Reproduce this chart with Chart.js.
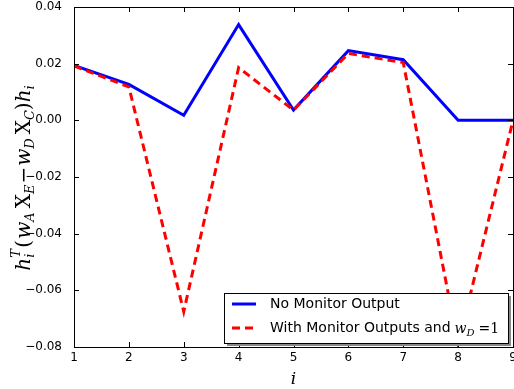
<!DOCTYPE html>
<html>
<head>
<meta charset="utf-8">
<script src="https://cdn.jsdelivr.net/npm/chart.js@4.4.0/dist/chart.umd.min.js"></script>
<style>
  body { margin: 0; background: #fff; }
  #wrap { width: 514px; height: 389px; }
</style>
</head>
<body>
<div id="wrap"><canvas id="chart" width="514" height="389"></canvas></div>
<script>
// data
var indices = [1, 2, 3, 4, 5, 6, 7, 8, 9];
var noMonitor = [0.0194, 0.0127, 0.0018, 0.0338, 0.0036, 0.0246, 0.0214, 0.0, 0.0];
var withMonitor = [0.0192, 0.0118, -0.0675, 0.0186, 0.0036, 0.0236, 0.0204, -0.0790, 0.0];
var xTicks = [1, 2, 3, 4, 5, 6, 7, 8, 9];
var yTicks = [0.04, 0.02, 0.00, -0.02, -0.04, -0.06, -0.08];

var SANS = "'DejaVu Sans', sans-serif";
var SERIF = "'DejaVu Serif', serif";

function fmt(v) {
    var s = Math.abs(v) < 1e-9 ? '0.00' : v.toFixed(2);
    return s.replace('-', '\u2212');
}

// draw a run of text pieces (for the math labels)
function drawRuns(ctx, runs, x, y) {
    ctx.textBaseline = 'alphabetic';
    ctx.textAlign = 'left';
    runs.forEach(function(r) {
        ctx.font = r.f;
        ctx.fillText(r.t, x + (r.dx || 0), y + (r.dy || 0));
        if (!r.noAdvance) x += ctx.measureText(r.t).width + (r.dx || 0) + (r.gap || 0);
    });
    return x;
}
function runsWidth(ctx, runs) {
    var w = 0;
    runs.forEach(function(r) {
        ctx.font = r.f;
        if (!r.noAdvance) w += ctx.measureText(r.t).width + (r.dx || 0) + (r.gap || 0);
    });
    return w;
}

var frame = {
    id: 'frame',
    afterDraw: function(chart) {
        var ctx = chart.ctx, a = chart.chartArea;
        var xs = chart.scales.x, ys = chart.scales.y;
        ctx.save();
        ctx.strokeStyle = '#000';
        ctx.lineWidth = 1;
        ctx.strokeRect(Math.round(a.left) + 0.5, Math.round(a.top) + 0.5,
            Math.round(a.right - a.left), Math.round(a.bottom - a.top));

        // inward tick marks on every side
        ctx.beginPath();
        xTicks.forEach(function(v) {
            var px = Math.round(xs.getPixelForValue(v)) + 0.5;
            ctx.moveTo(px, a.bottom); ctx.lineTo(px, a.bottom - 5);
            ctx.moveTo(px, a.top); ctx.lineTo(px, a.top + 5);
        });
        yTicks.forEach(function(v) {
            var py = Math.round(ys.getPixelForValue(v)) + 0.5;
            ctx.moveTo(a.left, py); ctx.lineTo(a.left + 5, py);
            ctx.moveTo(a.right, py); ctx.lineTo(a.right - 5, py);
        });
        ctx.stroke();

        // x tick labels
        ctx.fillStyle = '#000';
        ctx.font = '12px ' + SANS;
        ctx.textAlign = 'center';
        ctx.textBaseline = 'top';
        xTicks.forEach(function(v) {
            ctx.fillText(String(v), xs.getPixelForValue(v), a.bottom + 5);
        });

        // x title
        ctx.font = 'italic 17px ' + SERIF;
        ctx.textBaseline = 'alphabetic';
        ctx.fillText('i', (a.left + a.right) / 2, 384);

        // y title: h_i^T (w_A X_E - w_D X_C) h_i
        var big = 'italic 20px ' + SERIF, rom = '20px ' + SERIF, sub = 'italic 13px ' + SERIF;
        var runs = [
            { t: 'h', f: big },
            { t: 'T', f: sub, dy: -10, noAdvance: true },
            { t: 'i', f: sub, dy: 4, gap: 6 },
            { t: '(', f: rom, gap: 1 },
            { t: 'w', f: big },
            { t: 'A', f: sub, dy: 4, gap: 4 },
            { t: 'X', f: rom },
            { t: 'E', f: sub, dy: 4, gap: 1 },
            { t: '\u2212', f: rom, gap: 1 },
            { t: 'w', f: big },
            { t: 'D', f: sub, dy: 4, gap: 4 },
            { t: 'X', f: rom },
            { t: 'C', f: sub, dy: 4 },
            { t: ')', f: rom },
            { t: 'h', f: big },
            { t: 'i', f: sub, dy: 4 }
        ];
        var w = runsWidth(ctx, runs);
        ctx.translate(30, 178);
        ctx.rotate(-Math.PI / 2);
        drawRuns(ctx, runs, -w / 2, 0);
        ctx.restore();

        // legend box with shadow
        ctx.save();
        var lx = 224, ly = 293, lw = 284, lh = 50;
        ctx.fillStyle = '#888';
        ctx.fillRect(lx + 3, ly + 3, lw, lh);
        ctx.fillStyle = '#fff';
        ctx.fillRect(lx, ly, lw, lh);
        ctx.strokeStyle = '#000';
        ctx.lineWidth = 1;
        ctx.strokeRect(lx + 0.5, ly + 0.5, lw, lh);
        var sets = chart.data.datasets;
        var rowsY = [ly + 11, ly + 35];
        sets.forEach(function(ds, i) {
            ctx.beginPath();
            ctx.strokeStyle = ds.borderColor;
            ctx.lineWidth = ds.borderWidth;
            ctx.setLineDash(ds.borderDash || []);
            ctx.moveTo(lx + 8, rowsY[i]);
            ctx.lineTo(lx + 32, rowsY[i]);
            ctx.stroke();
        });
        ctx.setLineDash([]);
        ctx.fillStyle = '#000';
        ctx.font = '14px ' + SANS;
        ctx.textAlign = 'left';
        ctx.textBaseline = 'middle';
        ctx.fillText(sets[0].label, lx + 46, rowsY[0]);
        var tw = ctx.measureText(sets[1].label).width;
        ctx.fillText(sets[1].label, lx + 46, rowsY[1]);
        drawRuns(ctx, [
            { t: 'w', f: 'italic 14px ' + SERIF, dx: 4 },
            { t: 'D', f: 'italic 10px ' + SERIF, dy: 3, gap: 4 },
            { t: '=1', f: '14px ' + SERIF }
        ], lx + 46 + tw, rowsY[1] + 5);
        ctx.restore();
    }
};

new Chart(document.getElementById('chart'), {
    type: 'line',
    data: {
        labels: indices,
        datasets: [{
            label: 'No Monitor Output',
            data: indices.map((x, i) => ({ x: x, y: noMonitor[i] })),
            borderColor: '#0000ff',
            borderWidth: 3,
            pointRadius: 0,
            tension: 0,
            order: 1
        }, {
            label: 'With Monitor Outputs and',
            data: indices.map((x, i) => ({ x: x, y: withMonitor[i] })),
            borderColor: '#ff0000',
            borderWidth: 3,
            borderDash: [8, 5],
            pointRadius: 0,
            tension: 0,
            order: 0
        }]
    },
    options: {
        responsive: false,
        animation: false,
        events: [],
        layout: { padding: { top: 7, right: 1, left: 0, bottom: 0 } },
        plugins: {
            legend: { display: false },
            tooltip: { enabled: false }
        },
        scales: {
            x: {
                type: 'linear',
                min: 1,
                max: 9,
                grid: { display: false },
                border: { display: false },
                ticks: { display: false },
                afterFit: function(scale) { scale.height = 42; }
            },
            y: {
                min: -0.08,
                max: 0.04,
                grid: { display: false },
                border: { display: false },
                afterBuildTicks: function(scale) {
                    scale.ticks = yTicks.map(v => ({ value: v }));
                },
                ticks: {
                    color: '#000',
                    padding: 4,
                    font: { family: SANS, size: 12, lineHeight: 1.0 },
                    callback: function(v) { return fmt(v); }
                },
                afterFit: function(scale) {
                    scale.width = 74;
                    scale.paddingTop = 0;
                    scale.paddingBottom = 0;
                }
            }
        }
    },
    plugins: [frame]
});
</script>
</body>
</html>
